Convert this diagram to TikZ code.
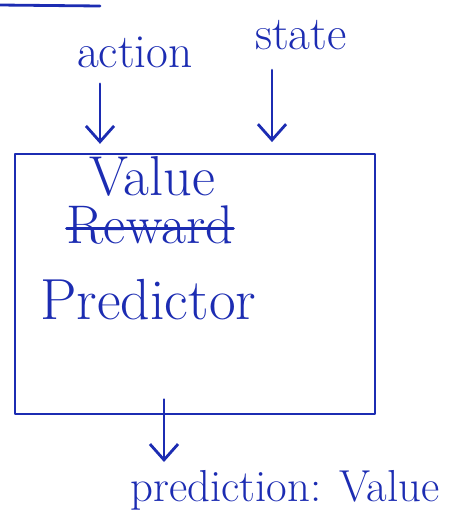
\documentclass[tikz,border=0pt]{standalone}
\usepackage{tikz}
\usetikzlibrary{arrows.meta}
\definecolor{ink}{RGB}{28,44,178}

\begin{document}
\begin{tikzpicture}[x=0.02cm, y=-0.02cm,
		pen/.style={draw=ink, line width=1.6pt, line cap=round, line join=round},
		penarrow/.style={pen, -{Straight Barb[length=9pt,width=16pt,line width=1.6pt]}},
		hand/.style={text=ink, inner sep=0pt}]
			\useasboundingbox (0,0) rectangle (452,529);
			\draw[pen] (0,5) -- (100,6);
			% inputs
			\node[hand, font=\fontsize{27}{30}\selectfont] (action) at (135,52) {action};
			\node[hand, font=\fontsize{27}{30}\selectfont] (state) at (301,35) {state};
			% predictor box
			\node[pen, rectangle, minimum width=7.2cm, minimum height=5.2cm] (box) at (195,284) {};
			\node[hand, font=\fontsize{32}{35}\selectfont] (value) at (152,176) {Value};
			\node[hand, font=\fontsize{31}{34}\selectfont] (reward) at (150,225) {Reward};
			\draw[pen] ([yshift=-2pt]reward.west) -- ([yshift=-2pt]reward.east);
			\node[hand, anchor=west, font=\fontsize{33}{36}\selectfont] (predictor) at (40,300) {Predictor};
			% output
			\node[hand, font=\fontsize{25.5}{28}\selectfont] (output) at (285,490) {prediction: Value};
			\coordinate (outtip) at (164,462);
			\draw[penarrow] (action.south -| 100,0) ++(0,16) -- ([yshift=5pt]box.north -| 100,0);
			\draw[penarrow] (state.south -| 272,0) ++(0,20) -- ([yshift=6pt]box.north -| 272,0);
			\draw[penarrow] ([yshift=9pt]box.south -| outtip) -- (outtip);
	\end{tikzpicture}
\end{document}
